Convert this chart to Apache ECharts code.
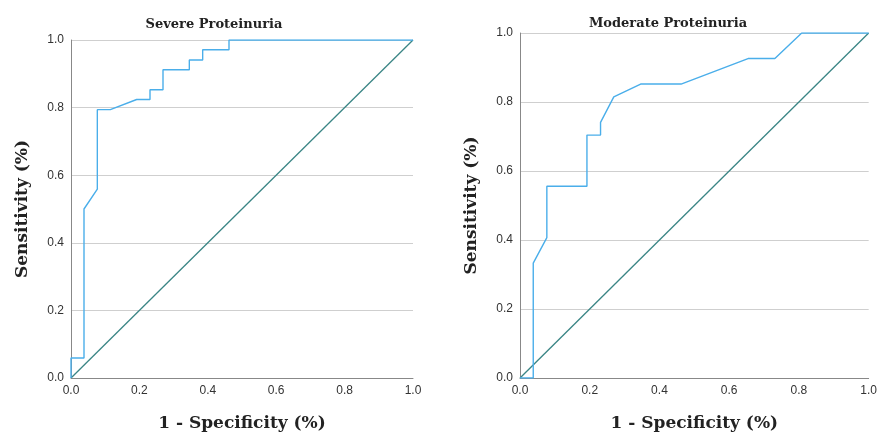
<!DOCTYPE html>
<html>
<head>
<meta charset="utf-8">
<script src="https://cdn.jsdelivr.net/npm/echarts@6/dist/echarts.min.js"></script>
<style>
  html, body { margin: 0; padding: 0; background: #fff; }
  #main { width: 880px; height: 437px; }
</style>
</head>
<body>
<div id="main"></div>
<script>
// ROC points: [1 - specificity, sensitivity]
var severeX = [0, 0, 0.038, 0.038, 0.077, 0.077, 0.115, 0.192, 0.231, 0.231, 0.269, 0.269, 0.346, 0.346, 0.385, 0.385, 0.462, 0.462, 1];
var severeY = [0, 0.059, 0.059, 0.5, 0.559, 0.794, 0.794, 0.824, 0.824, 0.853, 0.853, 0.912, 0.912, 0.941, 0.941, 0.971, 0.971, 1, 1];

var moderateX = [0, 0.038, 0.038, 0.077, 0.077, 0.192, 0.192, 0.231, 0.231, 0.269, 0.346, 0.462, 0.654, 0.731, 0.808, 1];
var moderateY = [0, 0, 0.333, 0.407, 0.556, 0.556, 0.704, 0.704, 0.741, 0.815, 0.852, 0.852, 0.926, 0.926, 1, 1];

var refX = [0, 1];
var refY = [0, 1];

var titles = ['Severe Proteinuria', 'Moderate Proteinuria'];
var xName = '1 - Specificity (%)';
var yName = 'Sensitivity (%)';

function pairs(xs, ys) {
    var out = [];
    for (var i = 0; i < xs.length; i++) {
        out.push([xs[i], ys[i]]);
    }
    return out;
}

var serif = 'DejaVu Serif';
var sans = 'Liberation Sans';

function makeX(idx) {
    return {
        gridIndex: idx,
        type: 'value',
        min: 0, max: 1, interval: 0.2,
        name: xName,
        nameLocation: 'middle',
        nameGap: 37,
        nameTextStyle: { fontFamily: serif, fontWeight: 'bold', fontSize: 17, color: '#222' },
        axisLine: { show: true, lineStyle: { color: '#888', width: 1 } },
        axisTick: { show: false },
        axisLabel: {
            margin: 7, color: '#333', fontFamily: sans, fontSize: 12,
            formatter: function (v) { return v.toFixed(1); }
        },
        splitLine: { show: false }
    };
}

function makeY(idx) {
    return {
        gridIndex: idx,
        type: 'value',
        min: 0, max: 1, interval: 0.2,
        name: yName,
        nameLocation: 'middle',
        nameGap: 40,
        nameTextStyle: { fontFamily: serif, fontWeight: 'bold', fontSize: 17, color: '#222' },
        axisLine: { show: true, lineStyle: { color: '#888', width: 1 } },
        axisTick: { show: false },
        axisLabel: {
            margin: 7, color: '#333', fontFamily: sans, fontSize: 12,
            formatter: function (v) { return v.toFixed(1); }
        },
        splitLine: { show: true, lineStyle: { color: '#cfcfcf', width: 1 } }
    };
}

var myChart = echarts.init(document.getElementById('main'));

var option = {
    backgroundColor: '#fff',
    animation: false,
    title: [
        { text: titles[0], left: 209, top: 13, textAlign: 'center',
          textStyle: { fontFamily: serif, fontWeight: 'bold', fontSize: 13, color: '#222' } },
        { text: titles[1], left: 663, top: 12, textAlign: 'center',
          textStyle: { fontFamily: serif, fontWeight: 'bold', fontSize: 13, color: '#222' } }
    ],
    grid: [
        { left: 71, top: 40, width: 342, height: 341 },
        { left: 520, top: 33, width: 352, height: 351 }
    ],
    xAxis: [makeX(0), makeX(1)],
    yAxis: [makeY(0), makeY(1)],
    series: [
        {
            type: 'line', xAxisIndex: 0, yAxisIndex: 0,
            data: pairs(refX, refY), showSymbol: false, symbol: 'none',
            lineStyle: { color: '#3a8585', width: 1.3 }
        },
        {
            type: 'line', xAxisIndex: 0, yAxisIndex: 0,
            data: pairs(severeX, severeY), showSymbol: false, symbol: 'none',
            lineStyle: { color: '#4aaeea', width: 1.4 }
        },
        {
            type: 'line', xAxisIndex: 1, yAxisIndex: 1,
            data: pairs(refX, refY), showSymbol: false, symbol: 'none',
            lineStyle: { color: '#3a8585', width: 1.3 }
        },
        {
            type: 'line', xAxisIndex: 1, yAxisIndex: 1,
            data: pairs(moderateX, moderateY), showSymbol: false, symbol: 'none',
            lineStyle: { color: '#4aaeea', width: 1.4 }
        }
    ]
};

myChart.setOption(option);
window.addEventListener('resize', function () {
    myChart.resize();
});
</script>
</body>
</html>
